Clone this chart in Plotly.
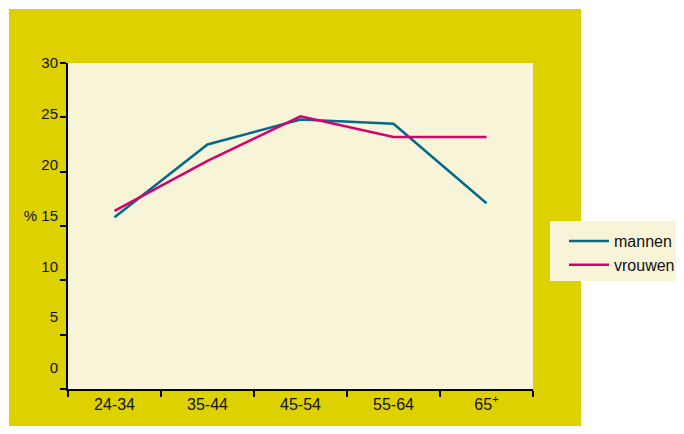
import plotly.graph_objects as go

categories = ["24-34", "35-44", "45-54", "55-64", "65+"]
tick_labels = ["24-34", "35-44", "45-54", "55-64", "65<sup>+</sup>"]
mannen = [15.8, 22.5, 24.8, 24.4, 17.1]
vrouwen = [16.4, 21.0, 25.1, 23.2, 23.2]
y_ticks = [0, 5, 10, 15, 20, 25, 30]
y_tick_text = ["0", "5", "10", "% 15", "20", "25", "30"]

TEAL = "#05698a"
PINK = "#d5016f"
YELLOW = "#ddd200"
CREAM = "#f8f4d8"
FONT = "Liberation Sans, Arial, sans-serif"

fig = go.Figure()
fig.add_trace(go.Scatter(x=categories, y=mannen, name="mannen", mode="lines",
                         line=dict(color=TEAL, width=2.5)))
fig.add_trace(go.Scatter(x=categories, y=vrouwen, name="vrouwen", mode="lines",
                         line=dict(color=PINK, width=2.5)))
# invisible trace to host the tick-label axis
fig.add_trace(go.Scatter(x=[categories[0]], y=[0], yaxis="y2", mode="markers",
                         marker=dict(opacity=0), showlegend=False, hoverinfo="skip"))

OFF = 8  # page body margin
W, H = 684 - OFF, 434 - 2 * OFF
# plot area in reference pixel coords: x 68..533, y 63..389
PL, PR, PT, PB = 68, 533, 63, 389
pw, ph = PR - PL, PB - PT
L, T = PL - OFF, PT - OFF
R = W - L - pw
B = H - T - ph

def px(x):
    return (x - PL) / pw

def py(y):
    return (PB - y) / ph

fig.update_layout(
    width=W, height=H,
    margin=dict(l=L, r=R, t=T, b=B, pad=0, autoexpand=False),
    paper_bgcolor="white",
    plot_bgcolor="rgba(0,0,0,0)",
    font=dict(family=FONT, size=15, color="#111"),
    showlegend=True,
    legend=dict(x=px(564), y=py(224), xanchor="left", yanchor="top",
                bgcolor="rgba(0,0,0,0)", font=dict(size=16, family=FONT, color="#111"),
                itemwidth=40),
    xaxis=dict(type="category", range=[-0.5, 4.5], tickson="boundaries",
               ticks="outside", ticklen=6, tickwidth=2, tickcolor="black",
               showline=True, linewidth=2, linecolor="black", showgrid=False,
               tickvals=categories, ticktext=tick_labels, zeroline=False,
               tickfont=dict(size=16), automargin=False),
    yaxis=dict(range=[0, 30], tickvals=y_ticks, showticklabels=False,
               ticks="outside", ticklen=6, tickwidth=2, tickcolor="black",
               showline=True, linewidth=2, linecolor="black", showgrid=False,
               zeroline=False, automargin=False),
    yaxis2=dict(overlaying="y", side="left", range=[-2.07, 30], tickvals=y_ticks,
                ticktext=y_tick_text, ticks="", showline=False, showgrid=False,
                zeroline=False, ticklabelstandoff=9, tickfont=dict(size=15),
                automargin=False),
    shapes=[
        dict(type="rect", xref="paper", yref="paper", x0=px(9), x1=px(581), y0=py(432), y1=py(9),
             fillcolor=YELLOW, line=dict(width=0), layer="below"),
        dict(type="rect", xref="paper", yref="paper", x0=0, x1=1, y0=0, y1=1,
             fillcolor=CREAM, line=dict(width=0), layer="below"),
        dict(type="rect", xref="paper", yref="paper", x0=px(550), x1=px(700), y0=py(281), y1=py(221),
             fillcolor=CREAM, line=dict(width=0), layer="below"),
    ],
)

fig.write_html("out.html")
